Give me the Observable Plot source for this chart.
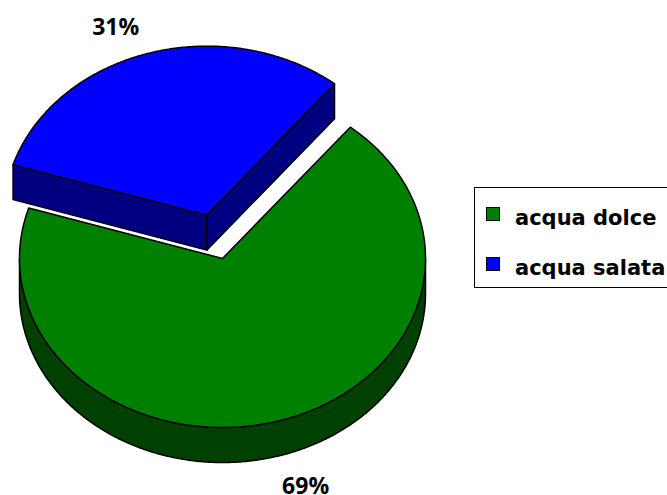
<!DOCTYPE html>
<html><head><meta charset="utf-8">
<script src="https://cdn.jsdelivr.net/npm/d3@7"></script>
<script src="https://cdn.jsdelivr.net/npm/@observablehq/plot@0.6"></script>
<style>
body{margin:0;background:#fff;}
#wrap{position:relative;width:667px;height:495px;overflow:hidden;}
#legendBox{position:absolute;left:474px;top:187px;width:260px;height:101px;border:1.5px solid #000;box-sizing:border-box;background:#fff}
.sw{position:absolute;width:14px;height:14px;border:1.5px solid #000;box-sizing:border-box}
.lt{position:absolute;font-family:"DejaVu Sans",sans-serif;font-weight:bold;font-size:21px;line-height:30px;height:30px;white-space:nowrap;color:#000}
</style></head><body><div id="wrap"></div>
<script>
// ---- data ----
const categories = ["acqua dolce", "acqua salata"];
const values = [69, 31];
const labels = ["69%", "31%"];
const topColors = ["#008000", "#0000FF"];
const sideColors = ["#004000", "#000080"];
const exploded = [false, true];

// ---- layout ----
const W = 667, H = 495;
const cx = 222, cy = 258, rx = 203, ry = 169;
const depth = 35 / ry;
const startDeg = 39;
const explodeR = 0.268;
const lx = 1.485, ly = 1.176;

const arcs = d3.pie().sort(null)
  .startAngle(startDeg * Math.PI / 180)
  .endAngle(startDeg * Math.PI / 180 + 2 * Math.PI)(values);

const slices = arcs.map((a, i) => {
  const mid = (a.startAngle + a.endAngle) / 2;
  const ox = exploded[i] ? explodeR * Math.sin(mid) : 0;
  const oy = exploded[i] ? explodeR * Math.cos(mid) : 0;
  return {i, a0: a.startAngle, a1: a.endAngle, mid, ox, oy};
});

function arcPts(s, from, to, z) {
  const n = Math.max(2, Math.ceil(Math.abs(to - from) / 0.01));
  const pts = [];
  for (let k = 0; k <= n; k++) {
    const a = from + (to - from) * k / n;
    pts.push({x: s.ox + Math.sin(a), y: s.oy + Math.cos(a) + z});
  }
  return pts;
}

const polys = [];
let pid = 0;
function addPoly(pts, fill) {
  const id = pid++;
  pts.forEach(p => polys.push({...p, id, fill}));
}

// back-to-front
const order = slices.slice().sort((a, b) => (b.oy + Math.cos(b.mid)) - (a.oy + Math.cos(a.mid)));
for (const s of order) {
  const side = sideColors[s.i], top = topColors[s.i];
  const c = {x: s.ox, y: s.oy};
  for (const [a, vis] of [[s.a0, Math.sin(s.a0) < 0], [s.a1, Math.sin(s.a1) > 0]]) {
    if (!vis) continue;
    const e = {x: s.ox + Math.sin(a), y: s.oy + Math.cos(a)};
    addPoly([c, e, {x: e.x, y: e.y - depth}, {x: c.x, y: c.y - depth}], side);
  }
  for (let k = -1; k <= 2; k++) {
    const lo = Math.max(s.a0, Math.PI / 2 + 2 * Math.PI * k);
    const hi = Math.min(s.a1, 3 * Math.PI / 2 + 2 * Math.PI * k);
    if (hi > lo) {
      addPoly([...arcPts(s, lo, hi, 0), ...arcPts(s, hi, lo, -depth)], side);
    }
  }
  addPoly([c, ...arcPts(s, s.a0, s.a1, 0)], top);
}

const labelData = slices.map(s => {
  const x = s.ox + lx * Math.sin(s.mid);
  let y = s.oy + ly * Math.cos(s.mid);
  if (Math.cos(s.mid) < 0) y -= depth;
  return {x, y, text: labels[s.i]};
});

const chart = Plot.plot({
  width: W, height: H, margin: 0,
  x: {domain: [-cx / rx, (W - cx) / rx], axis: null},
  y: {domain: [(cy - H) / ry, cy / ry], axis: null},
  color: {type: "identity"},
  style: {background: "#fff", overflow: "visible"},
  marks: [
    Plot.line(polys, {x: "x", y: "y", z: "id", fill: "fill", stroke: "#000", strokeWidth: 1.5,
      strokeLinejoin: "round", curve: "linear-closed"}),
    Plot.text(labelData, {x: "x", y: "y", text: "text", fontSize: 23, fontWeight: "bold",
      fontFamily: "Open Sans", fill: "#000", dx: -4, dy: 3})
  ]
});
const wrap = document.getElementById("wrap");
wrap.appendChild(chart);

const box = document.createElement("div");
box.id = "legendBox";
wrap.appendChild(box);
categories.forEach((c, i) => {
  const sw = document.createElement("div");
  sw.className = "sw";
  sw.style.left = "486px";
  sw.style.top = (207 + i * 50) + "px";
  sw.style.background = topColors[i];
  wrap.appendChild(sw);
  const t = document.createElement("div");
  t.className = "lt";
  t.style.left = "515px";
  t.style.top = (203 + i * 50) + "px";
  t.textContent = c;
  wrap.appendChild(t);
});
</script></body></html>
